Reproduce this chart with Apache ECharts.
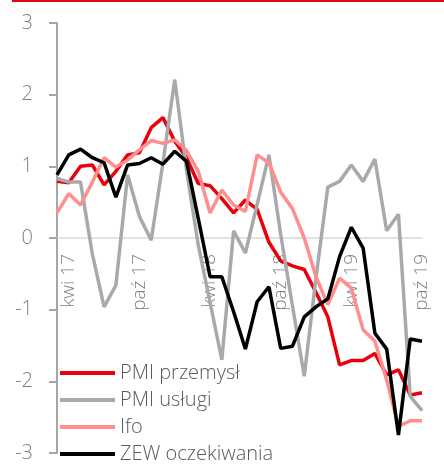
<!DOCTYPE html>
<html>
<head>
<meta charset="utf-8">
<script src="https://cdn.jsdelivr.net/npm/echarts@6/dist/echarts.min.js"></script>
<style>
html,body{margin:0;padding:0;background:#fff;}
#chart{width:444px;height:466px;}
</style>
</head>
<body>
<div id="chart"></div>
<script>
const categories = ['mar 17','kwi 17','maj 17','cze 17','lip 17','sie 17','wrz 17','paź 17','lis 17','gru 17',
  'sty 18','lut 18','mar 18','kwi 18','maj 18','cze 18','lip 18','sie 18','wrz 18','paź 18','lis 18','gru 18',
  'sty 19','lut 19','mar 19','kwi 19','maj 19','cze 19','lip 19','sie 19','wrz 19','paź 19'];
const yTicks = [-3, -2, -1, 0, 1, 2, 3];
const pmiPrzemysl = [0.79,0.77,1.00,1.02,0.74,0.93,1.16,1.19,1.54,1.68,1.35,1.12,0.76,0.73,0.55,0.35,0.53,0.40,-0.06,-0.32,-0.39,-0.44,-0.76,-1.10,-1.77,-1.71,-1.71,-1.61,-1.91,-1.84,-2.19,-2.16];
const pmiUslugi = [0.83,0.78,0.78,-0.22,-0.96,-0.66,0.88,0.30,-0.03,1.05,2.21,0.95,-0.10,-0.90,-1.70,0.10,-0.21,0.47,1.16,0.05,-0.95,-1.93,-0.55,0.71,0.79,1.02,0.79,1.10,0.10,0.33,-2.21,-2.41];
const ifo = [0.35,0.62,0.46,0.78,1.12,0.99,1.09,1.23,1.36,1.32,1.37,1.22,0.93,0.35,0.67,0.46,0.37,1.16,1.05,0.64,0.41,0.00,-0.54,-0.93,-0.56,-0.70,-1.28,-1.44,-1.98,-2.63,-2.55,-2.55];
const zew = [0.88,1.16,1.24,1.12,1.05,0.57,1.02,1.04,1.12,1.03,1.21,1.07,0.27,-0.54,-0.54,-1.03,-1.55,-0.89,-0.68,-1.54,-1.51,-1.10,-0.96,-0.85,-0.26,0.15,-0.14,-1.33,-1.55,-2.75,-1.41,-1.44];
const seriesNames = ['PMI przemysł','PMI usługi','Ifo','ZEW oczekiwania'];
const seriesColors = ['#e8000b','#a7aaac','#ff8f8f','#000000'];
const seriesData = [pmiPrzemysl, pmiUslugi, ifo, zew];

const FONT = '"Open Sans", "Liberation Sans", sans-serif';
const GRID_TOP = 23, GRID_BOTTOM = 13, CHART_H = 466;
const plotH = CHART_H - GRID_TOP - GRID_BOTTOM;
// x axis sits on the zero line: distance from the bottom edge of the plot
const zeroOffset = plotH * (0 - yTicks[0]) / (yTicks[yTicks.length-1] - yTicks[0]);

const chart = echarts.init(document.getElementById('chart'), null, {renderer:'canvas'});
chart.setOption({
  animation: false,
  backgroundColor: '#ffffff',
  graphic: [{
    type: 'rect', left: 12, top: 0,
    shape: {width: 432, height: 2},
    style: {fill: '#e30613'}
  }],
  grid: {left: 57, right: 22, top: GRID_TOP, bottom: GRID_BOTTOM, containLabel: false},
  legend: {
    orient: 'vertical', left: 60, top: 363, height: 105, padding: 0,
    icon: 'rect', itemWidth: 55, itemHeight: 4, itemGap: 7,
    textStyle: {fontFamily: FONT, fontWeight: 300, fontSize: 20, lineHeight: 20, color: '#5a5a5a'},
    data: seriesNames
  },
  xAxis: {
    type: 'category', data: categories, boundaryGap: false,
    position: 'bottom', offset: -zeroOffset,
    axisLine: {onZero: false, lineStyle: {color: '#d9d9d9', width: 1.5}},
    axisTick: {show: false},
    axisLabel: {
      rotate: 90, margin: 16, fontFamily: FONT, fontWeight: 300, fontSize: 19, color: '#7f7f7f',
      interval: function (idx) { return idx % 6 === 1; }
    },
    splitLine: {show: false}
  },
  yAxis: {
    type: 'value', min: yTicks[0], max: yTicks[yTicks.length-1], interval: 1,
    axisLine: {show: true, lineStyle: {color: '#a6a6a6', width: 2}},
    axisTick: {show: true, length: 8, lineStyle: {color: '#a6a6a6', width: 2}},
    axisLabel: {margin: 24, fontFamily: FONT, fontWeight: 300, fontSize: 20, color: '#7f7f7f'},
    splitLine: {show: false}
  },
  series: seriesNames.map((n, i) => ({
    name: n, type: 'line', data: seriesData[i], symbol: 'none', color: seriesColors[i],
    lineStyle: {color: seriesColors[i], width: 3.5}, z: 2 + i
  }))
});
</script>
</body>
</html>
